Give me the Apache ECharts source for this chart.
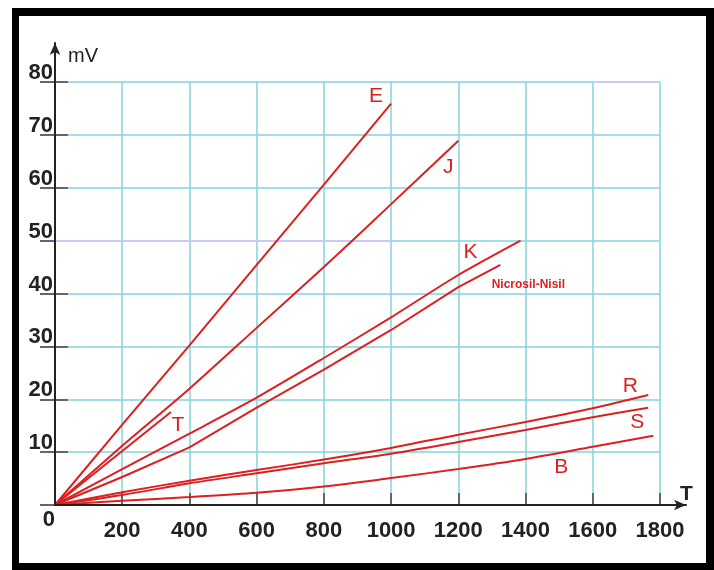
<!DOCTYPE html>
<html><head><meta charset="utf-8">
<script src="https://cdn.jsdelivr.net/npm/echarts@6/dist/echarts.min.js"></script>
<style>
html,body{margin:0;padding:0;background:#fff;}
#chart{position:absolute;left:0;top:0;width:714px;height:570px;}
#frame{position:absolute;left:12px;top:8px;width:702px;height:562px;box-sizing:border-box;border:8px solid #000;border-left-width:7px;border-bottom-width:7px;pointer-events:none;}
</style></head><body>
<div id="chart"></div><div id="frame"></div>
<script>
// axes
const xMin = 0, xMax = 1800, xStep = 200;
const yMin = 0, yMax = 80, yStep = 10;
const xAxisName = 'T', yAxisName = 'mV', originLabel = '0';

// thermocouple curves: [T, mV]
const dataE = [[0,0],[200,15.2],[400,30.2],[600,45.4],[800,60.6],[1000,75.9]];
const dataJ = [[0,0],[200,11.2],[400,22.0],[600,33.5],[800,45.0],[1000,56.9],[1200,68.9]];
const dataT = [[0,0],[200,10.2],[345,17.6]];
const dataK = [[0,0],[200,6.8],[400,13.5],[600,20.3],[800,27.8],[1000,35.5],[1200,43.5],[1385,50.0]];
const dataN = [[0,0],[200,5.3],[400,10.9],[600,18.4],[800,25.6],[1000,33.1],[1200,41.2],[1325,45.4]];
const dataR = [[0,0],[200,2.4],[400,4.6],[600,6.6],[800,8.6],[1000,10.8],[1200,13.3],[1400,15.7],[1600,18.3],[1765,20.8]];
const dataS = [[0,0],[200,1.9],[400,4.1],[600,6.0],[800,7.9],[1000,9.7],[1200,11.9],[1400,14.2],[1600,16.6],[1765,18.4]];
const dataB = [[0,0],[200,0.8],[400,1.5],[600,2.3],[800,3.5],[1000,5.1],[1200,6.8],[1400,8.7],[1600,11.0],[1780,13.1]];

const seriesNames = ['E','J','T','K','Nicrosil-Nisil','R','S','B'];
const seriesData = [dataE, dataJ, dataT, dataK, dataN, dataR, dataS, dataB];
const seriesSmooth = [false, 0.25, false, 0.25, false, 0.3, 0.3, 0.3];
// label offsets (px) from each curve's end point
const labelOffsets = [[-15,-7],[-10,27],[7,13],[-50,12],[28,20],[-18,-9],[-11,14],[-92,31]];

// lavender-tinted grid segments [[x0,y0],[x1,y1]]
const tintSegments = [[[0,50],[1000,50]],[[1600,80],[1800,80]]];

const RED = '#dc1f1f';
const GRIDC = '#86d3dc';
const AXC = '#222';
const TICKC = '#666';
const FONT = '"Liberation Sans", Arial, sans-serif';

const chart = echarts.init(document.getElementById('chart'));

const series = seriesNames.map((name, i) => {
  const d = seriesData[i];
  const isN = name.length > 1;
  const s = {
    name, type: 'line', xAxisIndex: 0, yAxisIndex: 0,
    data: d, showSymbol: false, symbol: 'none', smooth: seriesSmooth[i], z: 3,
    lineStyle: { color: RED, width: 2 },
    markPoint: {
      symbol: 'circle', symbolSize: 0, silent: true, animation: false,
      data: [{ coord: d[d.length - 1] }],
      label: {
        show: true, position: 'inside', formatter: name, offset: labelOffsets[i],
        color: RED, fontFamily: FONT,
        fontSize: isN ? 12 : 21, fontWeight: isN ? 'bold' : 'normal'
      }
    }
  };
  if (i === 0) {
    s.markLine = {
      silent: true, symbol: 'none', animation: false, z: 1,
      label: { show: false },
      lineStyle: { color: '#c8c8fb', width: 2, type: 'solid' },
      data: tintSegments.map(sg => [{ coord: sg[0] }, { coord: sg[1] }])
    };
  }
  return s;
});

const option = {
  animation: false,
  backgroundColor: '#fff',
  grid: [
    { left: 55, right: 54, top: 82, bottom: 65 },
    { left: 55, right: 28, top: 43, bottom: 65 }
  ],
  xAxis: [
    {
      type: 'value', gridIndex: 0, min: xMin, max: xMax, interval: xStep,
      axisLine: { show: false },
      axisTick: { show: true, inside: true, length: 12, lineStyle: { color: TICKC, width: 2 } },
      axisLabel: { formatter: v => v === 0 ? '' : String(v), margin: 15, color: AXC,
        fontFamily: FONT, fontSize: 22, fontWeight: 'bold' },
      splitLine: { show: true, lineStyle: { color: GRIDC, width: 1.5 } }
    },
    {
      type: 'value', gridIndex: 1, min: xMin, max: 1900, interval: 1900, z: 5,
      name: xAxisName, nameLocation: 'end', nameGap: -6,
      nameTextStyle: { align: 'left', verticalAlign: 'bottom', color: AXC, fontFamily: FONT, fontSize: 21, fontWeight: 'bold' },
      axisLine: { show: true, symbol: ['none', 'arrow'], symbolSize: [8, 12], lineStyle: { color: AXC, width: 2 } },
      axisTick: { show: false },
      axisLabel: { formatter: v => v === 0 ? originLabel : '', align: 'right', margin: 4, color: AXC,
        fontFamily: FONT, fontSize: 22, fontWeight: 'bold' },
      splitLine: { show: false }
    }
  ],
  yAxis: [
    {
      type: 'value', gridIndex: 0, position: 'left', min: yMin, max: yMax, interval: yStep,
      axisLine: { show: false },
      axisTick: { show: true, inside: false, length: 15, lineStyle: { color: TICKC, width: 2 } },
      axisLabel: { formatter: v => v === 0 ? '' : String(v), align: 'right', verticalAlign: 'bottom', margin: 2,
        lineHeight: 18, color: AXC, fontFamily: FONT, fontSize: 22, fontWeight: 'bold' },
      splitLine: { show: true, lineStyle: { color: GRIDC, width: 1.5 } }
    },
    {
      type: 'value', gridIndex: 1, position: 'left', min: yMin, max: 88, interval: 88, z: 5,
      name: yAxisName, nameLocation: 'end', nameGap: -13,
      nameTextStyle: { align: 'left', verticalAlign: 'middle', padding: [0, 0, 0, 13], color: AXC, fontFamily: FONT, fontSize: 20 },
      axisLine: { show: true, symbol: ['none', 'arrow'], symbolSize: [8, 12], lineStyle: { color: AXC, width: 2 } },
      axisTick: { show: false }, axisLabel: { show: false }, splitLine: { show: false }
    },
    {
      type: 'value', gridIndex: 0, position: 'left', offset: 0, min: yMin, max: yMax, interval: yStep,
      axisLine: { show: false, onZero: false },
      axisTick: { show: true, inside: true, length: 13, lineStyle: { color: TICKC, width: 2 } },
      axisLabel: { show: false }, splitLine: { show: false }
    }
  ],
  series
};
chart.setOption(option);
</script>
</body></html>
